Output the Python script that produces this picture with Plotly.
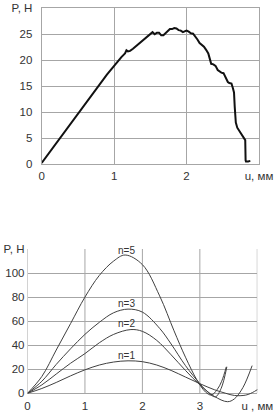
import plotly.graph_objects as go

# ---- top chart data (experiment) ----
u_exp = [0.0, 0.1, 0.2, 0.3, 0.4, 0.5, 0.6, 0.7, 0.8, 0.9, 1.0, 1.05, 1.1, 1.15, 1.17, 1.19, 1.22,
         1.26, 1.3, 1.35, 1.4, 1.45, 1.5, 1.53, 1.56, 1.59, 1.62, 1.65, 1.68, 1.71, 1.74, 1.77,
         1.8, 1.83, 1.86, 1.89, 1.92, 1.95, 1.98, 2.0, 2.03, 2.06, 2.09, 2.12, 2.15, 2.18, 2.21,
         2.24, 2.27, 2.3, 2.32, 2.34, 2.37, 2.4, 2.43, 2.46, 2.48, 2.51, 2.54, 2.57, 2.59, 2.62,
         2.64, 2.655, 2.665, 2.68, 2.7, 2.72, 2.75, 2.78, 2.8, 2.81, 2.815, 2.82, 2.85, 2.88]
p_exp = [0.2, 2.1, 4.0, 6.0, 7.9, 9.8, 11.7, 13.6, 15.4, 17.2, 18.9, 19.8, 20.6, 21.3, 21.9, 21.7, 21.8,
         22.2, 22.7, 23.3, 23.8, 24.4, 25.1, 25.4, 25.0, 25.3, 25.3, 24.8, 24.8, 25.2, 25.6, 26.0,
         26.0, 26.2, 26.1, 25.8, 25.7, 25.4, 25.6, 25.7, 25.5, 25.2, 25.1, 24.6, 24.0, 23.3, 23.0,
         22.6, 22.0, 21.3, 20.3, 19.3, 19.2, 18.9, 18.1, 17.7, 17.6, 17.5, 16.6, 15.8, 15.6, 15.5,
         14.6, 13.8, 11.0, 8.0, 7.0, 6.6, 5.8, 5.2, 5.0, 4.6, 0.7, 0.5, 0.5, 0.6]

top_xticks = [0, 1, 2, 3]
top_xtext = ["0", "1", "2", "u, мм"]
top_yticks = [0, 5, 10, 15, 20, 25, 30]
top_ytext = ["0", "5", "10", "15", "20", "25", "P, Н"]

# ---- bottom chart data (model curves) ----
u_n1 = [0, 0.25, 0.5, 0.75, 1.0, 1.25, 1.5, 1.75, 2.0, 2.25, 2.5, 2.75, 3.0, 3.25, 3.45, 3.6, 3.8, 3.95, 4.12]
p_n1 = [0, 4, 9, 14.5, 19.5, 23.5, 26, 27, 26.3, 23.5, 19, 13.5, 8, 3, 0, -1.8, -1.5, 1.5, 7]
u_n2 = [0, 0.25, 0.5, 0.75, 1.0, 1.25, 1.5, 1.8, 2.0, 2.25, 2.5, 2.75, 3.0, 3.25, 3.48, 3.6, 3.75, 3.91]
p_n2 = [0, 7, 16, 25, 33, 42, 49, 53, 51.5, 44, 32, 19, 7, -2.5, -7, -4.7, 4.8, 23]
u_n3 = [0, 0.25, 0.5, 0.75, 1.0, 1.25, 1.5, 1.75, 2.0, 2.3, 2.5, 2.75, 3.0, 3.15, 3.27, 3.37, 3.47]
p_n3 = [0, 10, 24, 37, 49, 59, 67, 70, 67.5, 54, 41, 23, 8, 0.5, -3, 4, 22]
u_n5 = [0, 0.25, 0.5, 0.75, 1.0, 1.25, 1.5, 1.7, 2.0, 2.3, 2.55, 2.75, 2.95, 3.1, 3.2, 3.3, 3.38, 3.46]
p_n5 = [0, 14, 36, 58, 80, 98, 110, 115, 107, 81, 52, 30, 11, 1, -1.5, 3, 10, 22]

curve_names = ["n=1", "n=2", "n=3", "n=5"]
label_x = [1.715, 1.715, 1.715, 1.715]
label_y = [31.6, 58.2, 74.8, 118.6]

bot_xticks = [0, 1, 2, 3, 4]
bot_xtext = ["0", "1", "2", "3", "u , мм"]
bot_yticks = [0, 20, 40, 60, 80, 100, 120]
bot_ytext = ["0", "20", "40", "60", "80", "100", "P, Н"]

FONT = "Liberation Sans, Arial, sans-serif"
GRID = "#a6a6a6"
TXT = "#333333"

fig = go.Figure()
fig.add_trace(go.Scatter(x=u_exp, y=p_exp, mode="lines", line=dict(color="#111111", width=2),
                         xaxis="x", yaxis="y", showlegend=False))
for ux, py in [(u_n1, p_n1), (u_n2, p_n2), (u_n3, p_n3), (u_n5, p_n5)]:
    fig.add_trace(go.Scatter(x=ux, y=py, mode="lines",
                             line=dict(color="#404040", width=1, shape="spline", smoothing=1.0),
                             xaxis="x2", yaxis="y2", showlegend=False))

# vertical grid lines of bottom chart stop at P = 0
shapes = []
for v in bot_xticks:
    shapes.append(dict(type="line", xref="x2", yref="y2", x0=v, x1=v, y0=0, y1=bot_yticks[-1],
                       line=dict(color=GRID, width=1), layer="below"))

annotations = []
for name, lx, ly in zip(curve_names, label_x, label_y):
    annotations.append(dict(x=lx, y=ly, xref="x2", yref="y2", text=name, showarrow=False,
                            font=dict(family=FONT, size=10, color=TXT), yanchor="middle"))

fig.update_layout(
    width=277, height=416, margin=dict(l=0, r=0, t=0, b=0),
    paper_bgcolor="white", plot_bgcolor="white",
    font=dict(family=FONT, size=11.5, color=TXT),
    xaxis=dict(domain=[41.7 / 277, 259 / 277], range=[0, 3], tickvals=top_xticks, ticktext=top_xtext,
               showgrid=True, gridcolor=GRID, gridwidth=1, zeroline=False, showline=True,
               linecolor=GRID, linewidth=1, mirror=True, ticks="", automargin=False,
               ticklabelstandoff=1, anchor="y", fixedrange=True),
    yaxis=dict(domain=[1 - 164 / 416, 1 - 8.3 / 416], range=[0, 30], tickvals=top_yticks,
               ticktext=top_ytext, showgrid=True, gridcolor=GRID, gridwidth=1, zeroline=False,
               showline=True, linecolor=GRID, linewidth=1, mirror=True, ticks="",
               ticklabelstandoff=6, automargin=False, anchor="x", fixedrange=True),
    xaxis2=dict(domain=[27.5 / 277, 257.3 / 277], range=[0, 4], tickvals=bot_xticks, ticktext=bot_xtext,
                showgrid=False, zeroline=False, showline=False, ticks="", automargin=False,
                ticklabelstandoff=-5, anchor="y2", fixedrange=True),
    yaxis2=dict(domain=[1 - 402.9 / 416, 1 - 249 / 416], range=[-8, 120], tickvals=bot_yticks,
                ticktext=bot_ytext, showgrid=True, gridcolor=GRID, gridwidth=1, zeroline=False,
                showline=False, ticks="", ticklabelstandoff=2, automargin=False, anchor="x2",
                fixedrange=True),
    shapes=shapes, annotations=annotations,
)

fig.write_html("out.html")
